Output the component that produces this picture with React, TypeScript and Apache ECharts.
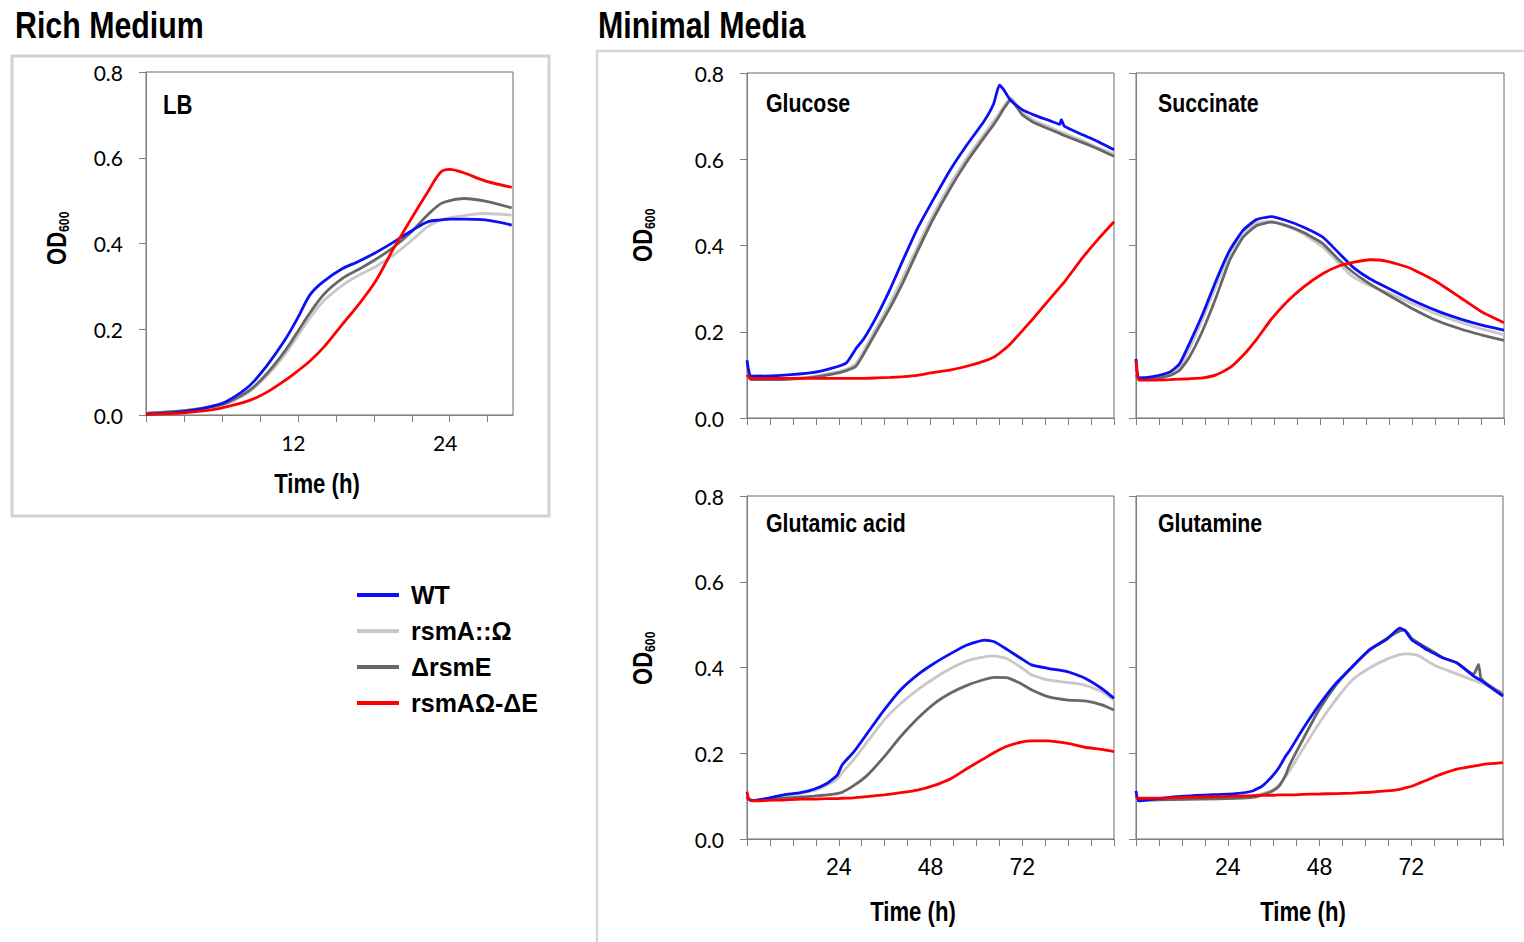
import React, { useEffect, useRef } from 'react';
import * as echarts from 'echarts';

// ---------- data ----------
const STRAINS = ['WT', 'rsmA::Ω', 'ΔrsmE', 'rsmAΩ-ΔE'];
const COLORS = ['#0a0ff5', '#c8c8c8', '#676767', '#ff0000'];

// Rich medium, LB (time in h, OD600)
const lbTime = [0, 3, 5.4, 6.5, 8.2, 9.6, 11, 12, 13, 14.1, 15.5, 16.7, 18.1, 19.5, 20.9, 22.3, 23.3, 24, 25.1, 26.8, 28.9];
const lbWT = [0.002, 0.008, 0.022, 0.034, 0.069, 0.117, 0.176, 0.227, 0.282, 0.313, 0.341, 0.357, 0.378, 0.402, 0.428, 0.451, 0.455, 0.457, 0.457, 0.455, 0.443];
const lbRsmA = [0.005, 0.01, 0.02, 0.028, 0.055, 0.093, 0.142, 0.185, 0.228, 0.268, 0.302, 0.324, 0.345, 0.372, 0.405, 0.44, 0.455, 0.46, 0.465, 0.47, 0.466];
const lbRsmE = [0.004, 0.01, 0.02, 0.03, 0.058, 0.098, 0.15, 0.195, 0.24, 0.283, 0.318, 0.338, 0.362, 0.39, 0.425, 0.468, 0.493, 0.5, 0.505, 0.499, 0.483];
const lbDouble = [0.0015, 0.005, 0.013, 0.02, 0.034, 0.054, 0.081, 0.103, 0.127, 0.16, 0.211, 0.254, 0.31, 0.385, 0.455, 0.522, 0.567, 0.573, 0.565, 0.546, 0.531];

// Minimal media, glucose
const gluTime = [0, 1, 9, 17, 22, 26, 28.5, 30.5, 34, 37.5, 41, 44.5, 48.5, 53, 57.5, 62, 64.5, 66, 67, 69, 72, 75, 79, 81.8, 82.2, 83, 88, 92, 96];
const gluWT = [0.134, 0.097, 0.099, 0.105, 0.115, 0.128, 0.161, 0.183, 0.237, 0.3, 0.37, 0.438, 0.503, 0.573, 0.633, 0.688, 0.728, 0.772, 0.763, 0.736, 0.715, 0.703, 0.69, 0.681, 0.692, 0.677, 0.656, 0.64, 0.622];
const gluRsmA = [0.1, 0.09, 0.091, 0.096, 0.104, 0.113, 0.126, 0.155, 0.212, 0.268, 0.33, 0.396, 0.468, 0.54, 0.603, 0.658, 0.688, 0.707, 0.72, 0.742, 0.708, 0.69, 0.675, 0.664, 0.663, 0.66, 0.642, 0.626, 0.612];
const gluRsmE = [0.1, 0.089, 0.089, 0.094, 0.101, 0.11, 0.12, 0.148, 0.203, 0.257, 0.318, 0.385, 0.458, 0.53, 0.594, 0.65, 0.68, 0.7, 0.715, 0.738, 0.703, 0.685, 0.67, 0.66, 0.658, 0.655, 0.638, 0.623, 0.607];
const gluDouble = [0.1, 0.092, 0.092, 0.092, 0.092, 0.092, 0.092, 0.092, 0.093, 0.094, 0.096, 0.099, 0.105, 0.111, 0.12, 0.132, 0.141, 0.15, 0.157, 0.173, 0.202, 0.232, 0.274, 0.303, 0.307, 0.315, 0.374, 0.416, 0.455];

// Minimal media, succinate
const sucTime = [0, 0.7, 4.4, 8.7, 11.3, 13.9, 17.4, 20.9, 24.4, 27.9, 31.4, 35.3, 39.2, 43.6, 48.8, 53.1, 56.6, 61, 65.3, 71.4, 78.4, 84.5, 90, 96];
const sucWT = [0.137, 0.093, 0.096, 0.106, 0.125, 0.172, 0.241, 0.319, 0.388, 0.435, 0.46, 0.467, 0.458, 0.443, 0.419, 0.381, 0.35, 0.323, 0.303, 0.276, 0.249, 0.23, 0.216, 0.204];
const sucRsmA = [0.12, 0.093, 0.093, 0.102, 0.118, 0.16, 0.23, 0.307, 0.381, 0.431, 0.452, 0.456, 0.446, 0.427, 0.396, 0.357, 0.327, 0.307, 0.292, 0.268, 0.241, 0.222, 0.207, 0.193];
const sucRsmE = [0.1, 0.091, 0.091, 0.098, 0.11, 0.141, 0.203, 0.28, 0.365, 0.419, 0.446, 0.454, 0.446, 0.431, 0.404, 0.365, 0.338, 0.311, 0.288, 0.257, 0.226, 0.207, 0.193, 0.18];
const sucDouble = [0.133, 0.088, 0.088, 0.089, 0.09, 0.091, 0.093, 0.1, 0.116, 0.145, 0.182, 0.229, 0.268, 0.303, 0.335, 0.353, 0.361, 0.367, 0.364, 0.348, 0.316, 0.28, 0.247, 0.221];

// Minimal media, glutamic acid
const gaTime = [0, 0.5, 1.7, 5.2, 9.6, 14, 17.5, 21, 23.6, 24.9, 28, 31.5, 35.9, 40.2, 44.6, 49, 53.4, 57.7, 62.1, 64.7, 68.2, 71.7, 74.4, 78.7, 84, 88.4, 92.8, 96];
const gaWT = [0.099, 0.093, 0.089, 0.095, 0.103, 0.108, 0.116, 0.13, 0.149, 0.173, 0.204, 0.247, 0.301, 0.348, 0.383, 0.41, 0.433, 0.453, 0.464, 0.46, 0.441, 0.421, 0.406, 0.398, 0.39, 0.375, 0.351, 0.328];
const gaRsmA = [0.095, 0.092, 0.09, 0.094, 0.1, 0.107, 0.113, 0.126, 0.14, 0.155, 0.186, 0.227, 0.278, 0.316, 0.348, 0.375, 0.398, 0.416, 0.425, 0.427, 0.42, 0.4, 0.383, 0.371, 0.365, 0.359, 0.344, 0.324];
const gaRsmE = [0.095, 0.092, 0.09, 0.092, 0.095, 0.098, 0.1, 0.103, 0.106, 0.109, 0.125, 0.149, 0.192, 0.239, 0.281, 0.316, 0.341, 0.359, 0.372, 0.377, 0.376, 0.362, 0.348, 0.332, 0.324, 0.322, 0.313, 0.301];
const gaDouble = [0.11, 0.092, 0.089, 0.09, 0.091, 0.093, 0.093, 0.094, 0.094, 0.095, 0.096, 0.099, 0.103, 0.108, 0.114, 0.125, 0.141, 0.165, 0.188, 0.202, 0.217, 0.226, 0.229, 0.229, 0.223, 0.214, 0.209, 0.204];

// Minimal media, glutamine
const gnTime = [0, 0.7, 8.6, 17.3, 26.1, 30.5, 33.1, 35.7, 37.5, 39.2, 40.1, 43.6, 48, 52.4, 56.7, 61.1, 65.5, 69, 70.3, 72.1, 74.3, 76, 78.6, 80.4, 83.9, 88.3, 89.6, 90.2, 91.8, 96];
const gnWT = [0.112, 0.089, 0.097, 0.102, 0.106, 0.112, 0.124, 0.147, 0.168, 0.194, 0.205, 0.256, 0.314, 0.364, 0.403, 0.442, 0.465, 0.492, 0.487, 0.465, 0.452, 0.442, 0.43, 0.422, 0.411, 0.38, 0.373, 0.37, 0.36, 0.333];
const gnRsmA = [0.095, 0.089, 0.092, 0.095, 0.098, 0.101, 0.106, 0.114, 0.127, 0.147, 0.158, 0.209, 0.271, 0.326, 0.372, 0.399, 0.419, 0.43, 0.432, 0.431, 0.426, 0.416, 0.403, 0.397, 0.385, 0.37, 0.366, 0.364, 0.358, 0.341];
const gnRsmE = [0.1, 0.091, 0.092, 0.093, 0.095, 0.097, 0.103, 0.112, 0.124, 0.15, 0.171, 0.231, 0.303, 0.36, 0.403, 0.44, 0.467, 0.485, 0.487, 0.468, 0.455, 0.446, 0.432, 0.422, 0.411, 0.384, 0.407, 0.376, 0.362, 0.337];
const gnDouble = [0.095, 0.095, 0.096, 0.098, 0.1, 0.101, 0.102, 0.102, 0.103, 0.103, 0.103, 0.104, 0.105, 0.106, 0.107, 0.109, 0.112, 0.116, 0.119, 0.123, 0.131, 0.137, 0.147, 0.153, 0.163, 0.17, 0.172, 0.173, 0.175, 0.178];

const lbTicks = [0, 3, 6, 9, 12, 15, 18, 21, 24, 27];
const lbTickLabels = [12, 24];
const mmTickLabels = [24, 48, 72];

// ---------- styling ----------
const BOLDFONT = '"Liberation Sans", Arial, sans-serif';
const TICKFONT = 'Lato, "Open Sans", sans-serif';
const AXIS_COLOR = '#808080';
const NARROW_SCALE = 0.82;

const panels = [
  { time: lbTime, vals: [lbWT, lbRsmA, lbRsmE, lbDouble], grid: { left: 146, top: 72, width: 367, height: 343 } },
  { time: gluTime, vals: [gluWT, gluRsmA, gluRsmE, gluDouble], grid: { left: 747, top: 73, width: 367, height: 345 } },
  { time: sucTime, vals: [sucWT, sucRsmA, sucRsmE, sucDouble], grid: { left: 1136, top: 73, width: 368, height: 345 } },
  { time: gaTime, vals: [gaWT, gaRsmA, gaRsmE, gaDouble], grid: { left: 747, top: 496, width: 367, height: 343 } },
  { time: gnTime, vals: [gnWT, gnRsmA, gnRsmE, gnDouble], grid: { left: 1136, top: 496, width: 367, height: 343 } },
];

function buildOption() {
  const grid = panels.map((p) => ({
    ...p.grid,
    show: true,
    borderColor: '#6a6a6a',
    borderWidth: 1,
    backgroundColor: 'transparent',
  }));

  const xAxis = panels.map((p, i) => {
    const isLB = i === 0;
    const showLabels = i === 0 || i === 3 || i === 4;
    return {
      gridIndex: i,
      type: 'value',
      min: 0,
      max: isLB ? 29 : 96,
      interval: isLB ? 3 : 6,
      splitLine: { show: false },
      axisLine: { show: true, lineStyle: { color: AXIS_COLOR, width: 1 } },
      axisTick: {
        show: true,
        inside: false,
        length: 7,
        lineStyle: { color: AXIS_COLOR },
        ...(isLB ? { customValues: lbTicks } : {}),
      },
      axisLabel: {
        show: showLabels,
        customValues: isLB ? lbTickLabels : mmTickLabels,
        margin: isLB ? 17 : 16,
        color: '#000',
        fontFamily: isLB ? TICKFONT : BOLDFONT,
        fontSize: isLB ? 21 : 23,
        padding: isLB ? [0, 9, 0, 0] : 0,
      },
    };
  });

  const yAxis = panels.map((p, i) => {
    const showLabels = i === 0 || i === 1 || i === 3;
    return {
      gridIndex: i,
      type: 'value',
      min: 0,
      max: 0.8,
      interval: 0.2,
      splitLine: { show: false },
      axisLine: { show: true, lineStyle: { color: AXIS_COLOR, width: 1 } },
      axisTick: { show: true, inside: false, length: 7, lineStyle: { color: AXIS_COLOR } },
      axisLabel: {
        show: showLabels,
        margin: 23,
        color: '#000',
        fontFamily: TICKFONT,
        fontSize: 21,
        formatter: (v: number) => v.toFixed(1),
      },
    };
  });

  // draw order: light gray, dark gray, blue, red
  const order = [1, 2, 0, 3];
  const series: any[] = [];
  panels.forEach((p, gi) => {
    order.forEach((si) => {
      series.push({
        type: 'line',
        name: STRAINS[si],
        xAxisIndex: gi,
        yAxisIndex: gi,
        data: p.time.map((t, k) => [t, p.vals[si][k]]),
        showSymbol: false,
        symbol: 'none',
        smooth: gi === 0 ? 0.35 : 0.15,
        lineStyle: { color: COLORS[si], width: 2.8 },
        itemStyle: { color: COLORS[si] },
        emphasis: { disabled: true },
        silent: true,
      });
    });
  });

  const boldText = (text: string, x: number, y: number, size: number, align = 'left') => ({
    type: 'text',
    x,
    y,
    scaleX: NARROW_SCALE,
    silent: true,
    style: {
      text,
      fill: '#000',
      font: `bold ${size}px ${BOLDFONT}`,
      textAlign: align,
      textVerticalAlign: 'middle',
      verticalAlign: 'middle',
    },
  });

  const odLabel = (x: number, y: number) => ({
    type: 'group',
    x,
    y,
    rotation: Math.PI / 2,
    silent: true,
    children: [
      {
        type: 'text',
        x: -28,
        y: 0,
        scaleX: NARROW_SCALE,
        style: {
          text: 'OD',
          fill: '#000',
          font: `bold 27px ${BOLDFONT}`,
          textAlign: 'left',
          textVerticalAlign: 'middle',
          verticalAlign: 'middle',
        },
      },
      {
        type: 'text',
        x: 5,
        y: 7,
        scaleX: NARROW_SCALE,
        style: {
          text: '600',
          fill: '#000',
          font: `bold 15px ${BOLDFONT}`,
          textAlign: 'left',
          textVerticalAlign: 'middle',
          verticalAlign: 'middle',
        },
      },
    ],
  });

  const graphic: any[] = [
    // Rich medium frame
    {
      type: 'rect',
      silent: true,
      shape: { x: 12, y: 56, width: 537, height: 460 },
      style: { fill: 'none', stroke: '#d2d2d2', lineWidth: 3 },
    },
    // Minimal media frame
    {
      type: 'polyline',
      silent: true,
      shape: { points: [[597, 942], [597, 51], [1524, 51]] },
      style: { fill: 'none', stroke: '#d6d6d6', lineWidth: 2.5 },
    },
    boldText('Rich Medium', 15, 25, 37),
    boldText('Minimal Media', 598, 25, 37),
    boldText('LB', 163, 105, 27),
    boldText('Glucose', 766, 103, 26),
    boldText('Succinate', 1158, 103, 26),
    boldText('Glutamic acid', 766, 523, 26),
    boldText('Glutamine', 1158, 523, 26),
    boldText('Time (h)', 317, 484, 27, 'center'),
    boldText('Time (h)', 913, 912, 27, 'center'),
    boldText('Time (h)', 1303, 912, 27, 'center'),
    odLabel(57, 237),
    odLabel(643, 234),
    odLabel(643, 657),
  ];

  return {
    animation: false,
    backgroundColor: '#ffffff',
    grid,
    xAxis,
    yAxis,
    series,
    legend: {
      data: STRAINS,
      orient: 'vertical',
      left: 357,
      top: 582,
      padding: 0,
      icon: 'rect',
      itemWidth: 42,
      itemHeight: 4,
      itemGap: 10,
      selectedMode: false,
      textStyle: {
        fontFamily: BOLDFONT,
        fontWeight: 'bold',
        fontSize: 25,
        lineHeight: 26,
        color: '#000',
        padding: [0, 0, 0, 7],
      },
    },
    graphic,
  };
}

export default function App() {
  const ref = useRef<HTMLDivElement>(null);
  useEffect(() => {
    if (!ref.current) return;
    const chart = echarts.init(ref.current, undefined, { renderer: 'svg' });
    chart.setOption(buildOption() as any);
    return () => chart.dispose();
  }, []);
  return (
    <div
      ref={ref}
      style={{ position: 'absolute', left: 0, top: 0, width: 1524, height: 942, background: '#fff' }}
    />
  );
}
